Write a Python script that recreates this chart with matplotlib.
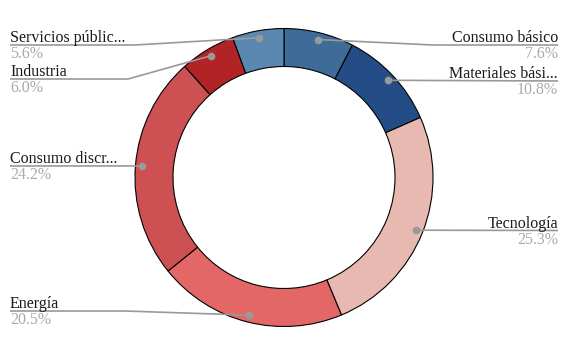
import numpy as np
import matplotlib
matplotlib.use('Agg')
from matplotlib import pyplot as plt

sectors = ['Consumo básico', 'Materiales bási...', 'Tecnología', 'Energía',
           'Consumo discr...', 'Industria', 'Servicios públic...']
shares = [7.6, 10.8, 25.3, 20.5, 24.2, 6.0, 5.6]
colors = ['#3f6b99', '#244d87', '#e8b9b1', '#e46768', '#cd5153', '#b22325', '#5b88b1']

# label layout in pixels from top-left: side, underline y, knee x (None = straight)
label_side = ['right', 'right', 'right', 'left', 'left', 'left', 'left']
label_y = [45, 81, 230.5, 311, 166, 79, 45]
knee_x = [433, None, None, 125, None, 128, 135]

W, H = 584, 348
cx, cy, R = 284, 177.5, 149

plt.rcParams['font.family'] = ['Liberation Serif', 'DejaVu Serif']

fig = plt.figure(figsize=(5.84, 3.48), dpi=100)
ax = fig.add_axes([0, 0, 1, 1])
wedges, _ = ax.pie(shares, colors=colors, startangle=90, counterclock=False,
                   center=(cx, H - cy), radius=R,
                   wedgeprops=dict(width=38, edgecolor='black', linewidth=0.8))
ax.set_xlim(0, W)
ax.set_ylim(0, H)
ax.axis('off')

for w, name, val, side, ly, kx in zip(wedges, sectors, shares, label_side, label_y, knee_x):
    ang = np.deg2rad((w.theta1 + w.theta2) / 2)
    px = cx + 142 * np.cos(ang)
    py = (H - cy) + 142 * np.sin(ang)
    Y = H - ly
    x0 = 10 if side == 'left' else 558
    if kx is None:
        xs, ys = [x0, px], [Y, py]
    else:
        xs, ys = [x0, kx, px], [Y, Y, py]
    ax.plot(xs, ys, color='#999999', lw=1.2, solid_capstyle='butt', zorder=3)
    ax.plot(px, py, 'o', color='#999999', ms=4.5, zorder=4)
    ax.text(x0, Y + 3, name, ha=side, va='baseline', fontsize=11.5, color='#1a1a1a')
    ax.text(x0, Y - 13, f'{val:.1f}%', ha=side, va='baseline', fontsize=11.5, color='#aaaaaa')

fig.savefig('out.png', dpi=100)
